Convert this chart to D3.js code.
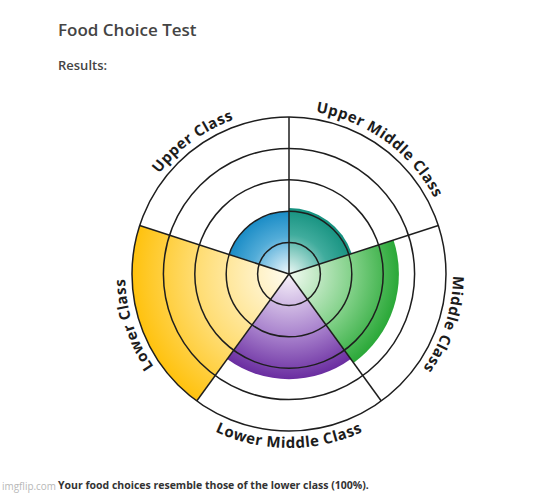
<!DOCTYPE html>
<html><head><meta charset="utf-8">
<script src="https://cdn.jsdelivr.net/npm/d3@7"></script>
<style>body{margin:0;background:#fff;} svg{display:block;}</style>
</head><body>
<script>
const categories = ["Upper Middle Class","Middle Class","Lower Middle Class","Lower Class","Upper Class"];
const values = [42, 70, 67, 100, 40];
const ringTicks = [20, 40, 60, 80, 100];
const colorsEdge = ["#14917f", "#2aa838", "#6a2da0", "#ffc20e", "#1a8cc6"];
const colorsCenter = ["#eef9f6", "#f3fbf3", "#f8f3fb", "#fffcf0", "#f2fafd"];
const colorsMid = ["#40ac9d", "#7dcf84", "#a780cc", "#ffdc70", "#52acd8"];
const title = "Food Choice Test";
const subtitle = "Results:";
const footer = "Your food choices resemble those of the lower class (100%).";

const W = 550, H = 500, cx = 289, cy = 274, R = 157;
const svg = d3.select("body").append("svg").attr("width", W).attr("height", H);
const defs = svg.append("defs");
const rScale = d3.scaleLinear().domain([0, 100]).range([0, R]);
const angle = d3.scaleBand().domain(categories).range([0, 2*Math.PI]).padding(0);

const g = svg.append("g").attr("transform", `translate(${cx},${cy})`);

categories.forEach((c, i) => {
  const gr = defs.append("radialGradient").attr("id", "grad" + i)
    .attr("gradientUnits", "userSpaceOnUse").attr("cx", 0).attr("cy", 0).attr("r", rScale(values[i]));
  gr.append("stop").attr("offset", "0%").attr("stop-color", colorsCenter[i]);
  gr.append("stop").attr("offset", "60%").attr("stop-color", colorsMid[i]);
  gr.append("stop").attr("offset", "100%").attr("stop-color", colorsEdge[i]);
});

const arc = d3.arc().innerRadius(0)
  .startAngle(d => angle(d.c)).endAngle(d => angle(d.c) + angle.bandwidth())
  .outerRadius(d => rScale(d.v));
g.selectAll("path.wedge").data(categories.map((c, i) => ({c, v: values[i], i})))
  .join("path").attr("class", "wedge").attr("d", arc)
  .attr("fill", d => `url(#grad${d.i})`);

g.selectAll("circle.ring").data(ringTicks).join("circle").attr("class", "ring")
  .attr("r", d => rScale(d)).attr("fill", "none").attr("stroke", "#1e1e1e").attr("stroke-width", 1.5);

g.selectAll("line.spoke").data(categories).join("line").attr("class", "spoke")
  .attr("x1", 0).attr("y1", 0)
  .attr("x2", d => rScale(100) * Math.sin(angle(d)))
  .attr("y2", d => -rScale(100) * Math.cos(angle(d)))
  .attr("stroke", "#1e1e1e").attr("stroke-width", 1.5);

function pt(r, a) { return [r * Math.sin(a), -r * Math.cos(a)]; }
categories.forEach((c, i) => {
  const mid = angle(c) + angle.bandwidth() / 2;
  const half = angle.bandwidth() / 2 * 0.98;
  const bottom = Math.cos(mid) < -0.9;
  let d;
  if (!bottom) {
    const r = R + 7;
    const p0 = pt(r, mid - half), p1 = pt(r, mid + half);
    d = `M${p0[0]},${p0[1]} A${r},${r} 0 0 1 ${p1[0]},${p1[1]}`;
  } else {
    const r = R + 17;
    const p0 = pt(r, mid + half), p1 = pt(r, mid - half);
    d = `M${p0[0]},${p0[1]} A${r},${r} 0 0 0 ${p1[0]},${p1[1]}`;
  }
  defs.append("path").attr("id", "lp" + i).attr("d", d);
  g.append("text").attr("font-family", "'Open Sans', sans-serif").attr("font-weight", 700)
    .attr("font-size", 15).attr("fill", "#1c1c1c").attr("letter-spacing", 0.5)
    .append("textPath").attr("href", "#lp" + i).attr("startOffset", "50%")
    .attr("text-anchor", "middle").text(c);
});

svg.append("text").attr("x", 58).attr("y", 36).attr("font-family", "'Open Sans', sans-serif")
  .attr("font-weight", 600).attr("font-size", 17).attr("fill", "#444").text(title);
svg.append("text").attr("x", 58).attr("y", 70).attr("font-family", "'Open Sans', sans-serif")
  .attr("font-weight", 600).attr("font-size", 13).attr("fill", "#444").text(subtitle);
const ft = svg.append("text").attr("x", 58).attr("y", 489).attr("font-family", "'Open Sans', sans-serif")
  .attr("font-weight", 700).attr("font-size", 11).attr("fill", "#333").text(footer);
const L = ft.node().getComputedTextLength();
ft.attr("font-size", 11 * 311 / L);
const wm = svg.append("text").attr("x", 2).attr("y", 490).attr("font-family", "'Open Sans', sans-serif")
  .attr("font-size", 11).attr("fill", "#b8b8b8").text("imgflip.com");
const WL = wm.node().getComputedTextLength();
wm.attr("font-size", 11 * 54 / WL);
</script>
</body></html>
